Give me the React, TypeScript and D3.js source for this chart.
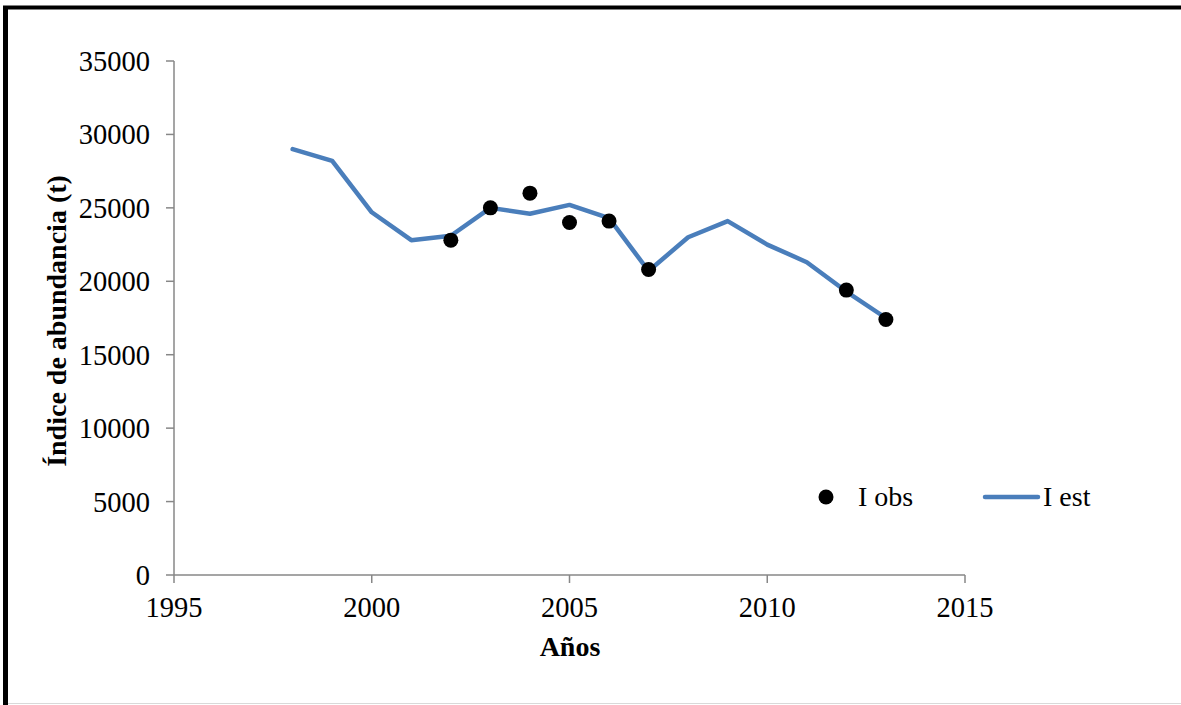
import React from "react";
import * as d3 from "d3";

const yearsEst = [1998, 1999, 2000, 2001, 2002, 2003, 2004, 2005, 2006, 2007, 2008, 2009, 2010, 2011, 2012, 2013];
const iEst = [29000, 28200, 24700, 22800, 23100, 25000, 24600, 25200, 24300, 20700, 23000, 24100, 22500, 21300, 19300, 17500];
const yearsObs = [2002, 2003, 2004, 2005, 2006, 2007, 2012, 2013];
const iObs = [22800, 25000, 26000, 24000, 24100, 20800, 19400, 17400];
const xTicks = [1995, 2000, 2005, 2010, 2015];
const yTicks = [0, 5000, 10000, 15000, 20000, 25000, 30000, 35000];

const W = 1181, H = 705;
const FONT = "'Liberation Serif', 'DejaVu Serif', serif";

export default function App() {
  const x = d3.scaleLinear().domain([1995, 2015]).range([174, 965]);
  const y = d3.scaleLinear().domain([0, 35000]).range([575, 61]);
  const line = d3.line<number>().x((_, i) => x(yearsEst[i])).y((d) => y(d));
  const axisColor = "#878787";
  return (
    <svg width={W} height={H} style={{ position: "absolute", left: 0, top: 0, background: "#fff" }}>
      <rect x={0} y={0} width={W} height={H} fill="#fff" />
      {/* frame */}
      <line x1={3} y1={7.5} x2={W} y2={7.5} stroke="#000" strokeWidth={4} />
      <line x1={5.5} y1={6} x2={5.5} y2={H} stroke="#000" strokeWidth={5} />
      <line x1={8} y1={703.5} x2={W} y2={703.5} stroke="#d9d9d9" strokeWidth={1} />
      {/* axes */}
      <line x1={174} y1={y(0)} x2={174} y2={y(35000)} stroke={axisColor} strokeWidth={1.5} />
      <line x1={174} y1={575} x2={965} y2={575} stroke={axisColor} strokeWidth={1.5} />
      {yTicks.map((t) => (
        <g key={"y" + t}>
          <line x1={166} x2={174} y1={y(t)} y2={y(t)} stroke={axisColor} strokeWidth={1.5} />
          <text x={150} y={y(t)} dy="0.35em" textAnchor="end" fontFamily={FONT} fontSize={28.5} fill="#000">
            {t}
          </text>
        </g>
      ))}
      {xTicks.map((t) => (
        <g key={"x" + t}>
          <line x1={x(t)} x2={x(t)} y1={575} y2={583} stroke={axisColor} strokeWidth={1.5} />
          <text x={x(t)} y={617} textAnchor="middle" fontFamily={FONT} fontSize={28.5} fill="#000">
            {t}
          </text>
        </g>
      ))}
      <text x={570} y={656} textAnchor="middle" fontFamily={FONT} fontSize={28} fontWeight="bold" fill="#000">
        Años
      </text>
      <text
        transform={`translate(66,321) rotate(-90)`}
        textAnchor="middle"
        fontFamily={FONT}
        fontSize={28}
        fontWeight="bold"
        fill="#000"
      >
        Índice de abundancia (t)
      </text>
      {/* series */}
      <path d={line(iEst) || ""} fill="none" stroke="#4a7ebb" strokeWidth={4.5} strokeLinejoin="round" strokeLinecap="round" />
      {iObs.map((v, i) => (
        <circle key={"o" + i} cx={x(yearsObs[i])} cy={y(v)} r={7.5} fill="#000" />
      ))}
      {/* legend */}
      <circle cx={826} cy={497} r={7.5} fill="#000" />
      <text x={858} y={506} fontFamily={FONT} fontSize={28} fill="#000">I obs</text>
      <line x1={985} x2={1038} y1={497} y2={497} stroke="#4a7ebb" strokeWidth={4.5} strokeLinecap="round" />
      <text x={1043} y={506} fontFamily={FONT} fontSize={28} fill="#000">I est</text>
    </svg>
  );
}
